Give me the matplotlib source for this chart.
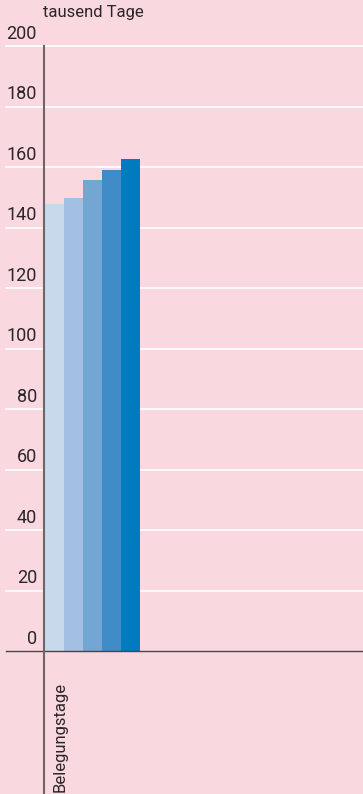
import matplotlib
matplotlib.use("Agg")
import matplotlib.pyplot as plt

plt.rcParams['font.family'] = ['Roboto', 'DejaVu Sans']

# bar values (tausend Tage), one per year
values = [147.8, 149.8, 155.7, 159.0, 162.6]
colors = ['#c9d9ec', '#a3c0e2', '#74a6d4', '#3f8cc9', '#007bc0']
yticks = [0, 20, 40, 60, 80, 100, 120, 140, 160, 180, 200]
unit_label = 'tausend Tage'
category = 'Belegungstage'

bg = '#f9d8df'
W, H = 363, 794
fig = plt.figure(figsize=(W / 100, H / 100), dpi=100, facecolor=bg)
ax = fig.add_axes([0, 0, 1, 1])
ax.set_facecolor(bg)

# pixel layout: zero line at y=651, 200 at y=46; bars 19 px wide starting at x=45
px_per_unit = 605 / 200
bar_px = 19
x0_px = 45
ax.set_ylim(-(H - 651) / px_per_unit, 200 + 46 / px_per_unit)
ax.set_xlim(-x0_px / bar_px, (W - x0_px) / bar_px)

for v in yticks[1:]:
    ax.axhline(v, xmin=6 / W, xmax=1, color='white', lw=1.2, zorder=1)

xs = [i + 0.5 for i in range(len(values))]
ax.bar(xs, values, width=1.0, color=colors, zorder=2, linewidth=0)

ax.axhline(0, xmin=6 / W, xmax=1, color='#4a4446', lw=1.0, zorder=3)
ax.axvline((44 - x0_px) / bar_px, ymin=0, ymax=(H - 46) / H, color='#6d6568', lw=1.5, zorder=3)

label_x = (37 - x0_px) / bar_px
for v in yticks:
    ax.text(label_x, v + 1.0, str(v), ha='right', va='bottom', fontsize=13, color='#2b2628')

ax.text((43 - x0_px) / bar_px, 200 + 29 / px_per_unit, unit_label, ha='left', va='baseline',
        fontsize=12, color='#2b2628')
ax.text((60 - x0_px) / bar_px, -(792 - 651) / px_per_unit, category, rotation=90,
        ha='center', va='bottom', fontsize=12, color='#2b2628')

ax.axis('off')
fig.savefig('out.png', dpi=100, facecolor=bg)
